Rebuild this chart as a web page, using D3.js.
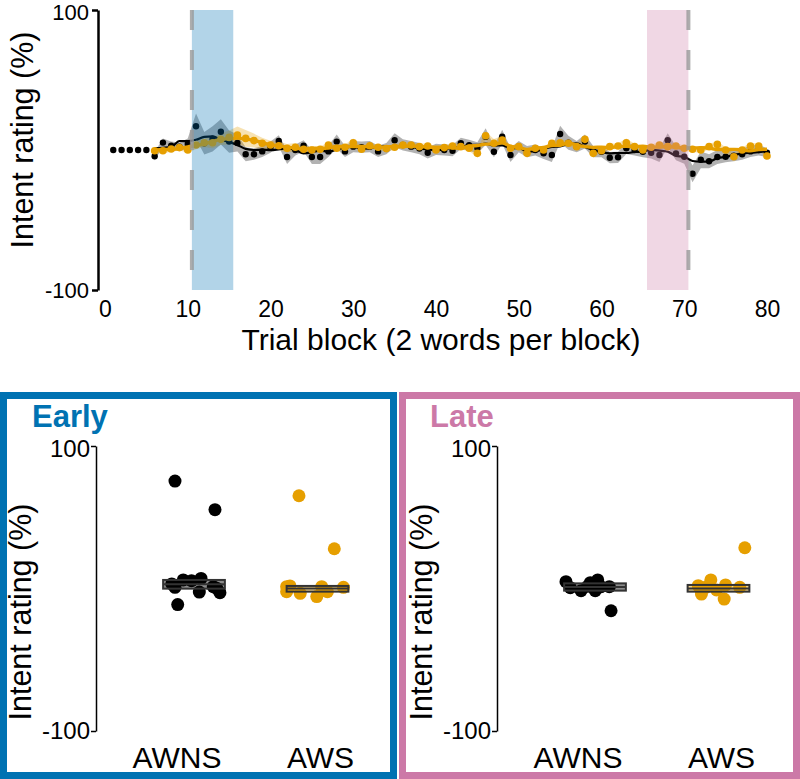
<!DOCTYPE html>
<html><head><meta charset="utf-8">
<script src="https://cdn.jsdelivr.net/npm/d3@7"></script>
<style>
body{margin:0;background:#fff}
svg{display:block}
text{font-family:"Liberation Sans",Arial,Helvetica,sans-serif;fill:#000}
</style>
</head><body>
<svg id="c" width="800" height="779"></svg>
<script>
// ---------------- DATA ----------------
const preBlocks = [1, 2, 3, 4, 5];
const preValues = [0, 0, 0, 0, 0];
const firstBlock = 6;
const awnsMeans = [
  -4.5, 5.3, 3.1, 2.4, 4.3,
  17, 4.8, 8, 13, 6, 5,
  -3, -3, -1, 2,
  6.5, -5, 0, 3, -5, -5, -1, 6, -1, 2.4,
  2, 2.4, -1, 1, 7, 3.6, 2.4, 1, -2, 0.5,
  0, -0.5, 4.8, 3.4, 1.5, 9.5, -1.2, 9.5, -3.6, 2.4,
  -1.2, 0, -2.4, -3.6, 11.4, 5.2, 2.4, 6, -1.2, -1.2,
  -5.5, -5.2, 1.2, 0, -1.2, -2, -3.6, 7, -2.4, -4.8,
  -17, -7, -8, -5, -4.8, -4, -3, -1, 0, -2
];
const awnsSE = [
  3, 3, 3, 3, 4,
  9, 8, 9, 9, 8, 6,
  5, 4, 4, 4,
  4, 5, 4, 4, 5, 5, 4, 5, 4, 4,
  4, 4, 4, 4, 5, 4, 4, 4, 4, 4,
  4, 4, 4, 4, 4, 6, 4, 5, 5, 4,
  4, 4, 4, 5, 6, 5, 4, 5, 4, 4,
  4, 4, 4, 4, 4, 4, 5, 5, 5, 5,
  6, 6, 5, 5, 4, 4, 4, 4, 4, 3
];
const awsMeans = [
  -0.5, -0.5, 0.7, 1.7, 0,
  3.6, 5.2, 5.2, 7.6, 9, 10.7,
  8.3, 6.7, 4.8, 3.6,
  3, 1.2, 2, 0.5, 0, 0.5, 3.6, 1.2, 2, 5.2,
  0.5, 3, 2, 1, 2, 3.6, 3.6, 2.4, 2.9, 0,
  1.7, 2.9, 2.4, 1.2, -2.4, 10.2, 4.8, 7.1, 1.2, 2.4,
  -2.4, 1.2, 0, 4.8, 5.2, 4.8, 2.4, 7.6, -2.4, -0.5,
  2.4, 2.9, 5.2, 2.4, 0, 2, 3.6, 2.4, 2.9, 1.2,
  0.5, 0, 2.4, 4, 0, -4.8, 0, 2.9, 2.9, -4.3
];
const awsSE = [
  2, 2, 2, 2, 2,
  3, 3, 4, 4, 5, 6,
  6, 5, 4, 3,
  3, 3, 3, 2, 2, 2, 2, 2, 2, 3,
  2, 2, 2, 2, 2, 2, 2, 2, 2, 2,
  2, 2, 2, 2, 3, 3, 3, 3, 2, 2,
  2, 2, 2, 2, 2, 2, 2, 3, 2, 2,
  2, 2, 3, 2, 2, 2, 2, 2, 2, 2,
  2, 2, 2, 2, 2, 2, 2, 2, 2, 3
];
const earlyWindow = [10.5, 15.5];
const lateWindow = [65.5, 70.5];
const xTicks = [0, 10, 20, 30, 40, 50, 60, 70, 80];
const yTicks = [-100, 100];
const groups = ["AWNS", "AWS"];

// Individual participants (x in category units incl. jitter, y = rating)
const earlyAWNS_x = [0.846, 1.17, 0.82, 0.846, 0.913, 0.98, 1.057, 1.043, 1.156, 1.184, 1.21, 0.868];
const earlyAWNS_y = [75.4, 55.3, 3.2, 0.8, 6, 5.5, 7.1, -2.5, 1.3, 0.1, -2.9, -11.3];
const earlyAWS_x = [1.85, 2.136, 1.777, 1.75, 1.86, 1.994, 2.034, 2.08, 2.21, 1.75];
const earlyAWS_y = [65.1, 27.9, 1.8, -2.2, -3.4, -5.7, 1.3, -2.2, 0.8, 1.3];
const lateAWNS_x = [0.765, 0.8, 0.887, 0.962, 1.022, 1.002, 1.049, 1.116, 1.13, 0.94];
const lateAWNS_y = [4.8, 0.6, -1.5, 4.1, 6, -1.5, 1.3, 1.3, -15.6, 1.5];
const lateAWS_x = [2.213, 1.836, 1.938, 1.862, 1.984, 2.057, 2.046, 2.172, 1.9];
const lateAWS_y = [28.6, 2, 6, -3.9, -1, 2.5, -7.4, 0.8, 1];
// crossbars [low, mid, high]
const earlyBars = [[-0.1, 3, 6], [-2.2, 0, 1.8]];
const lateBars = [[-1.5, 1, 3.6], [-2.2, 0, 2.5]];

// ---------------- STYLE ----------------
const BLACK = "#000000", ORANGE = "#E69F00", BLUE = "#0072B2", PINK = "#CC79A7";
const svg = d3.select("#c");
const fmt = d => String(d);

// ---------------- TOP PANEL ----------------
const x = d3.scaleLinear().domain([0, 80]).range([105, 767]);
const y = d3.scaleLinear().domain([-100, 100]).range([290, 10]);

function series(means, se) {
  return means.map((m, i) => ({ b: firstBlock + i, m, se: se[i] }));
}
function smooth(data, k) {
  return data.map((d, i) => {
    const w = data.slice(Math.max(0, i - k), Math.min(data.length, i + k + 1));
    return { b: d.b, m: d3.mean(w, e => e.m) };
  });
}
const sA = series(awnsMeans, awnsSE), sB = series(awsMeans, awsSE);

const gTop = svg.append("g");
const area = d3.area().x(d => x(d.b)).y0(d => y(d.m - d.se)).y1(d => y(d.m + d.se));
const line = d3.line().x(d => x(d.b)).y(d => y(d.m)).curve(d3.curveMonotoneX);

gTop.append("path").datum(sA).attr("d", area).attr("fill", BLACK).attr("fill-opacity", 0.3);
gTop.append("path").datum(sB).attr("d", area).attr("fill", ORANGE).attr("fill-opacity", 0.3);
gTop.append("path").datum(smooth(sA, 2)).attr("d", line).attr("fill", "none").attr("stroke", BLACK).attr("stroke-width", 2.2);
gTop.selectAll("circle.a").data(sA).join("circle").attr("class", "a")
  .attr("cx", d => x(d.b)).attr("cy", d => y(d.m)).attr("r", 3.2).attr("fill", BLACK);
gTop.selectAll("circle.pre").data(preBlocks).join("circle").attr("class", "pre")
  .attr("cx", d => x(d)).attr("cy", (d, i) => y(preValues[i])).attr("r", 3.2).attr("fill", BLACK);
gTop.append("path").datum(smooth(sB, 2)).attr("d", line).attr("fill", "none").attr("stroke", ORANGE).attr("stroke-width", 3.4);
gTop.selectAll("circle.b").data(sB).join("circle").attr("class", "b")
  .attr("cx", d => x(d.b)).attr("cy", d => y(d.m)).attr("r", 3.8).attr("fill", ORANGE);

// windows
[[earlyWindow, BLUE], [lateWindow, PINK]].forEach(([w, c]) => {
  gTop.append("rect").attr("x", x(w[0])).attr("width", x(w[1]) - x(w[0]))
    .attr("y", y(100)).attr("height", y(-100) - y(100)).attr("fill", c).attr("fill-opacity", 0.3);
});
[earlyWindow[0], lateWindow[1]].forEach(v => {
  gTop.append("line").attr("x1", x(v)).attr("x2", x(v)).attr("y1", y(100)).attr("y2", y(-100))
    .attr("stroke", "#999").attr("stroke-opacity", 0.8).attr("stroke-width", 4).attr("stroke-dasharray", "20,20");
});

// axes
const yAx = gTop.append("g").attr("transform", `translate(98,0)`)
  .call(d3.axisLeft(y).tickValues(yTicks).tickSize(6).tickSizeOuter(0).tickFormat(fmt));
yAx.select(".domain").attr("stroke-width", 2.5);
yAx.selectAll(".tick line").attr("stroke-width", 2.5);
yAx.selectAll("text").style("font-size", "22px").attr("x", -9).attr("dy", d => d > 0 ? "0.45em" : "0.32em");
const xAx = gTop.append("g").attr("transform", `translate(0,298)`)
  .call(d3.axisBottom(x).tickValues(xTicks).tickSize(0).tickFormat(fmt));
xAx.select(".domain").remove();
xAx.selectAll("text").style("font-size", "23px");
gTop.append("text").attr("transform", "translate(33,140) rotate(-90)").attr("text-anchor", "middle")
  .style("font-size", "30.5px").text("Intent rating (%)");
gTop.append("text").attr("x", 441).attr("y", 350).attr("text-anchor", "middle")
  .style("font-size", "30px").text("Trial block (2 words per block)");

// ---------------- BOTTOM PANELS ----------------
function panel(opts) {
  const g = svg.append("g");
  g.append("rect").attr("x", opts.x0 + 3.5).attr("y", 395.5).attr("width", opts.w - 7).attr("height", 380)
    .attr("fill", "#fff").attr("stroke", opts.color).attr("stroke-width", 7);
  g.append("text").attr("x", opts.titleX).attr("y", 427).style("font-size", "31px").style("font-weight", "bold")
    .style("fill", opts.color).text(opts.title);
  const yy = d3.scaleLinear().domain([-100, 100]).range([731, 446]);
  const xx = d3.scaleLinear().domain([1, 2]).range([opts.c1, opts.c1 + 123.5]);
  const ax = g.append("g").attr("transform", `translate(${opts.axisX},0)`)
    .call(d3.axisLeft(yy).tickValues(yTicks).tickSize(5).tickSizeOuter(0).tickFormat(fmt));
  ax.select(".domain").attr("stroke-width", 1.5);
  ax.selectAll(".tick line").attr("stroke-width", 1.5);
  ax.selectAll("text").style("font-size", "24px").attr("x", -6).attr("dy", d => d > 0 ? "0.42em" : "0.32em");
  g.append("text").attr("transform", `translate(${opts.axisX - 65},612) rotate(-90)`).attr("text-anchor", "middle")
    .style("font-size", "30.5px").text("Intent rating (%)");
  g.selectAll("text.cat").data(groups).join("text").attr("class", "cat")
    .attr("x", (d, i) => xx(i + 1) + opts.labelShift[i]).attr("y", 768).attr("text-anchor", "middle")
    .style("font-size", "30px").text(d => d);
  const pts = [[opts.ax, opts.ay, BLACK], [opts.bx, opts.by, ORANGE]];
  pts.forEach(([xs, ys, c]) => {
    g.selectAll(null).data(xs).join("circle")
      .attr("cx", d => xx(d)).attr("cy", (d, i) => yy(ys[i])).attr("r", 6.5).attr("fill", c);
  });
  opts.bars.forEach((b, i) => {
    const c = i === 0 ? BLACK : ORANGE;
    g.append("rect").attr("x", xx(i + 1 - 0.25)).attr("width", xx(i + 1.25) - xx(i + 0.75))
      .attr("y", yy(b[2])).attr("height", yy(b[0]) - yy(b[2]))
      .attr("fill", c).attr("fill-opacity", 0.45).attr("stroke", "#333").attr("stroke-width", 2);
    g.append("line").attr("x1", xx(i + 0.75)).attr("x2", xx(i + 1.25)).attr("y1", yy(b[1])).attr("y2", yy(b[1]))
      .attr("stroke", "#333").attr("stroke-width", 2);
  });
}
panel({ x0: 0, w: 397, color: BLUE, title: "Early", titleX: 32, axisX: 96, c1: 194, labelShift: [-17, 3],
  ax: earlyAWNS_x, ay: earlyAWNS_y, bx: earlyAWS_x, by: earlyAWS_y, bars: earlyBars });
panel({ x0: 399, w: 401, color: PINK, title: "Late", titleX: 430, axisX: 497, c1: 595, labelShift: [-17, 3],
  ax: lateAWNS_x, ay: lateAWNS_y, bx: lateAWS_x, by: lateAWS_y, bars: lateBars });
</script>
</body></html>
